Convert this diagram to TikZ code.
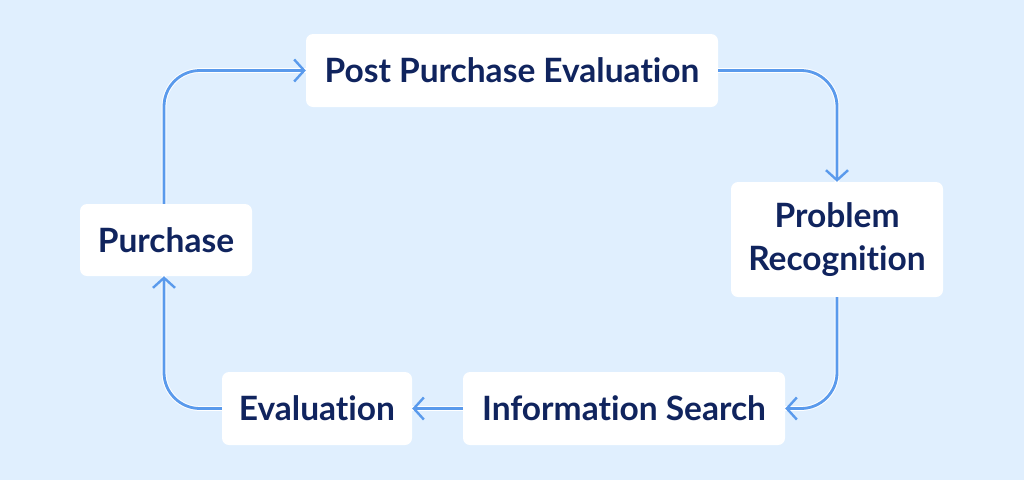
\documentclass[tikz,border=0pt]{standalone}
\usepackage{fontspec}
\setmainfont[Ligatures=NoCommon]{Lato}
\usetikzlibrary{arrows.meta,positioning}
\definecolor{bgblue}{RGB}{224,239,254}
\definecolor{navy}{RGB}{16,36,94}
\definecolor{flowblue}{RGB}{90,154,236}
\begin{document}
\begin{tikzpicture}[x=1pt,y=-1pt,
  stage/.style={fill=white,rounded corners=7pt,text=navy,font=\bfseries\fontsize{33.5}{43}\selectfont,align=center,inner sep=0pt},
  flow/.style={draw=flowblue,line width=2.8pt,rounded corners=36pt,
    -{Straight Barb[length=10pt,width=22pt,line width=2.4pt]},
    preaction={draw=white,line width=4.8pt,-}}]
  \fill[bgblue] (0,0) rectangle (1024,480);
  \useasboundingbox (0,0) rectangle (1024,480);
  \node[stage,minimum width=412pt,minimum height=73pt] (post) at (512,70.5) {Post Purchase Evaluation};
  \node[stage,minimum width=212pt,minimum height=115pt] (prob) at (837,239.5) {Problem\\Recognition};
  \node[stage,minimum width=322pt,minimum height=73pt] (info) at (624,408.5) {Information Search};
  \node[stage,minimum width=190pt,minimum height=73pt] (eval) at (317,408.5) {Evaluation};
  \node[stage,minimum width=172pt,minimum height=72pt] (purch) at (166,240) {Purchase};
  \draw[flow] (post.east) -| (prob.north);
  \draw[flow] (prob.south) |- (info.east);
  \draw[flow] (info.west) -- (eval.east);
  \draw[flow] (eval.west) -| ([xshift=-2pt]purch.south);
  \draw[flow] ([xshift=-2pt]purch.north) |- (post.west);
\end{tikzpicture}
\end{document}
